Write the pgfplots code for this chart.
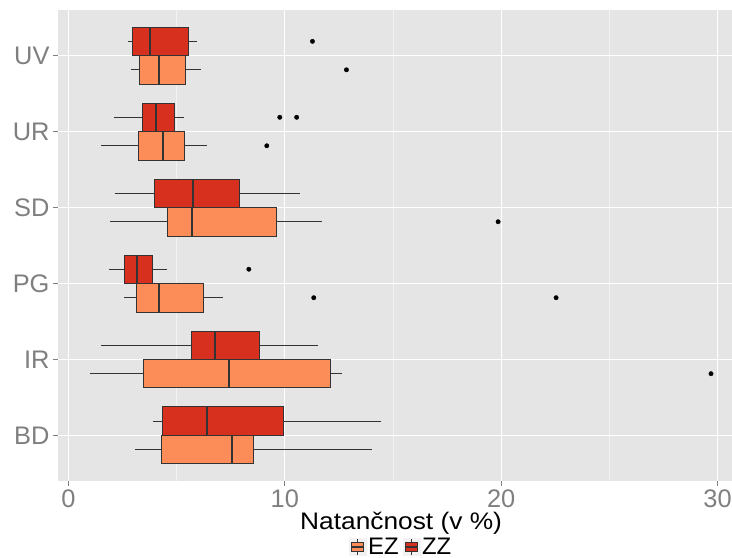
\documentclass[border=0pt]{standalone}
\usepackage{fontspec}
\setmainfont{Liberation Sans}
\newfontfamily\titlefont{Liberation Sans}[FakeStretch=1.1]
\usepackage{pgfplots}
\pgfplotsset{compat=1.18}
\usepgfplotslibrary{statistics}
\definecolor{ez}{HTML}{FC8D59}
\definecolor{zz}{HTML}{D7301F}
\definecolor{bg}{HTML}{E5E5E5}
\definecolor{g50}{HTML}{7F7F7F}
\definecolor{g20}{HTML}{333333}
\definecolor{minorg}{HTML}{F2F2F2}
% colour, position, lower whisker, lower quartile, median, upper quartile, upper whisker
\newcommand{\bxp}[7]{%
\addplot[forget plot, draw=g20, line width=0.9bp, fill=#1,
  boxplot prepared={draw position=#2, lower whisker=#3, lower quartile=#4,
  median=#5, upper quartile=#6, upper whisker=#7, box extend=0.375, whisker extend=0}]
  coordinates {};}
\begin{document}
\begin{tikzpicture}
\begin{axis}[
  name=ax,
  scale only axis, width=674bp, height=471bp,
  xmin=-0.48, xmax=30.67, ymin=0.4, ymax=6.6,
  boxplot/draw direction=x,
  boxplot/every median/.style={line width=2bp},
  axis background/.style={fill=bg},
  axis line style={draw=none},
  xtick={0,10,20,30}, minor xtick={5,15,25},
  ytick={1,2,3,4,5,6}, yticklabels={BD,IR,PG,SD,UR,UV},
  xmajorgrids, xminorgrids, ymajorgrids,
  major grid style={white, line width=1.2bp},
  minor grid style={minorg, line width=0.6bp},
  xtick pos=bottom, ytick pos=left,
  tick align=outside, major tick length=5bp, minor tick length=0pt,
  tick style={g50, line width=0.8bp},
  ticklabel style={font=\fontsize{25.5}{30}\selectfont, text=g50},
  /pgf/number format/assume math mode=true,
  xlabel={Natančnost (v \%)},
  xlabel style={at={(axis description cs:0.509,-0.1034)}, anchor=base, font=\titlefont\fontsize{24}{28}\selectfont},
  legend columns=2,
  legend style={draw=none, fill=none, at={(0.509,-0.140)}, anchor=center,
    font=\fontsize{24}{28}\selectfont,
    /tikz/every even column/.append style={column sep=2bp}},
]
\coordinate (ll) at (rel axis cs:0,0);
\coordinate (ur) at (rel axis cs:1,1);
% BD
\bxp{ez}{0.8125}{3.10}{4.30}{7.56}{8.55}{14.02}
\bxp{zz}{1.1875}{3.90}{4.33}{6.41}{9.94}{14.45}
% IR
\bxp{ez}{1.8125}{1.00}{3.47}{7.41}{12.11}{12.63}
\bxp{zz}{2.1875}{1.50}{5.68}{6.78}{8.83}{11.55}
% PG
\bxp{ez}{2.8125}{2.56}{3.16}{4.21}{6.26}{7.13}
\bxp{zz}{3.1875}{1.87}{2.59}{3.19}{3.87}{4.56}
% SD
\bxp{ez}{3.8125}{1.94}{4.57}{5.72}{9.60}{11.72}
\bxp{zz}{4.1875}{2.14}{3.99}{5.75}{7.90}{10.69}
% UR
\bxp{ez}{4.8125}{1.50}{3.22}{4.38}{5.36}{6.40}
\bxp{zz}{5.1875}{2.10}{3.44}{4.05}{4.92}{5.35}
% UV
\bxp{ez}{5.8125}{2.91}{3.28}{4.19}{5.42}{6.12}
\bxp{zz}{6.1875}{2.77}{2.94}{3.76}{5.56}{5.93}
% outliers
\addplot[forget plot, only marks, mark=*, mark size=2.2bp, black]
  coordinates {(11.28,6.1875) (12.85,5.8125) (9.77,5.1875) (10.55,5.1875)
  (9.17,4.8125) (19.86,3.8125) (8.34,3.1875) (11.34,2.8125) (22.54,2.8125)
  (29.70,1.8125)};
\addlegendimage{legend image code/.code={
  \fill[minorg] (-2bp,-8.5bp) rectangle (15bp,8.5bp);
  \draw[g20, line width=0.6bp] (6.5bp,4.5bp)--(6.5bp,8bp) (6.5bp,-4.5bp)--(6.5bp,-8bp);
  \draw[g20, fill=ez, line width=0.6bp] (0.5bp,-4.5bp) rectangle (12.5bp,4.5bp);
  \draw[g20, line width=1.4bp] (0.5bp,0)--(12.5bp,0);}}
\addlegendentry{EZ}
\addlegendimage{legend image code/.code={
  \fill[minorg] (-2bp,-8.5bp) rectangle (15bp,8.5bp);
  \draw[g20, line width=0.6bp] (6.5bp,4.5bp)--(6.5bp,8bp) (6.5bp,-4.5bp)--(6.5bp,-8bp);
  \draw[g20, fill=zz, line width=0.6bp] (0.5bp,-4.5bp) rectangle (12.5bp,4.5bp);
  \draw[g20, line width=1.4bp] (0.5bp,0)--(12.5bp,0);}}
\addlegendentry{ZZ}
\end{axis}
\pgfresetboundingbox
\path ([xshift=-58bp,yshift=-77bp]ll) rectangle ([yshift=10bp]ur);
\end{tikzpicture}
\end{document}
